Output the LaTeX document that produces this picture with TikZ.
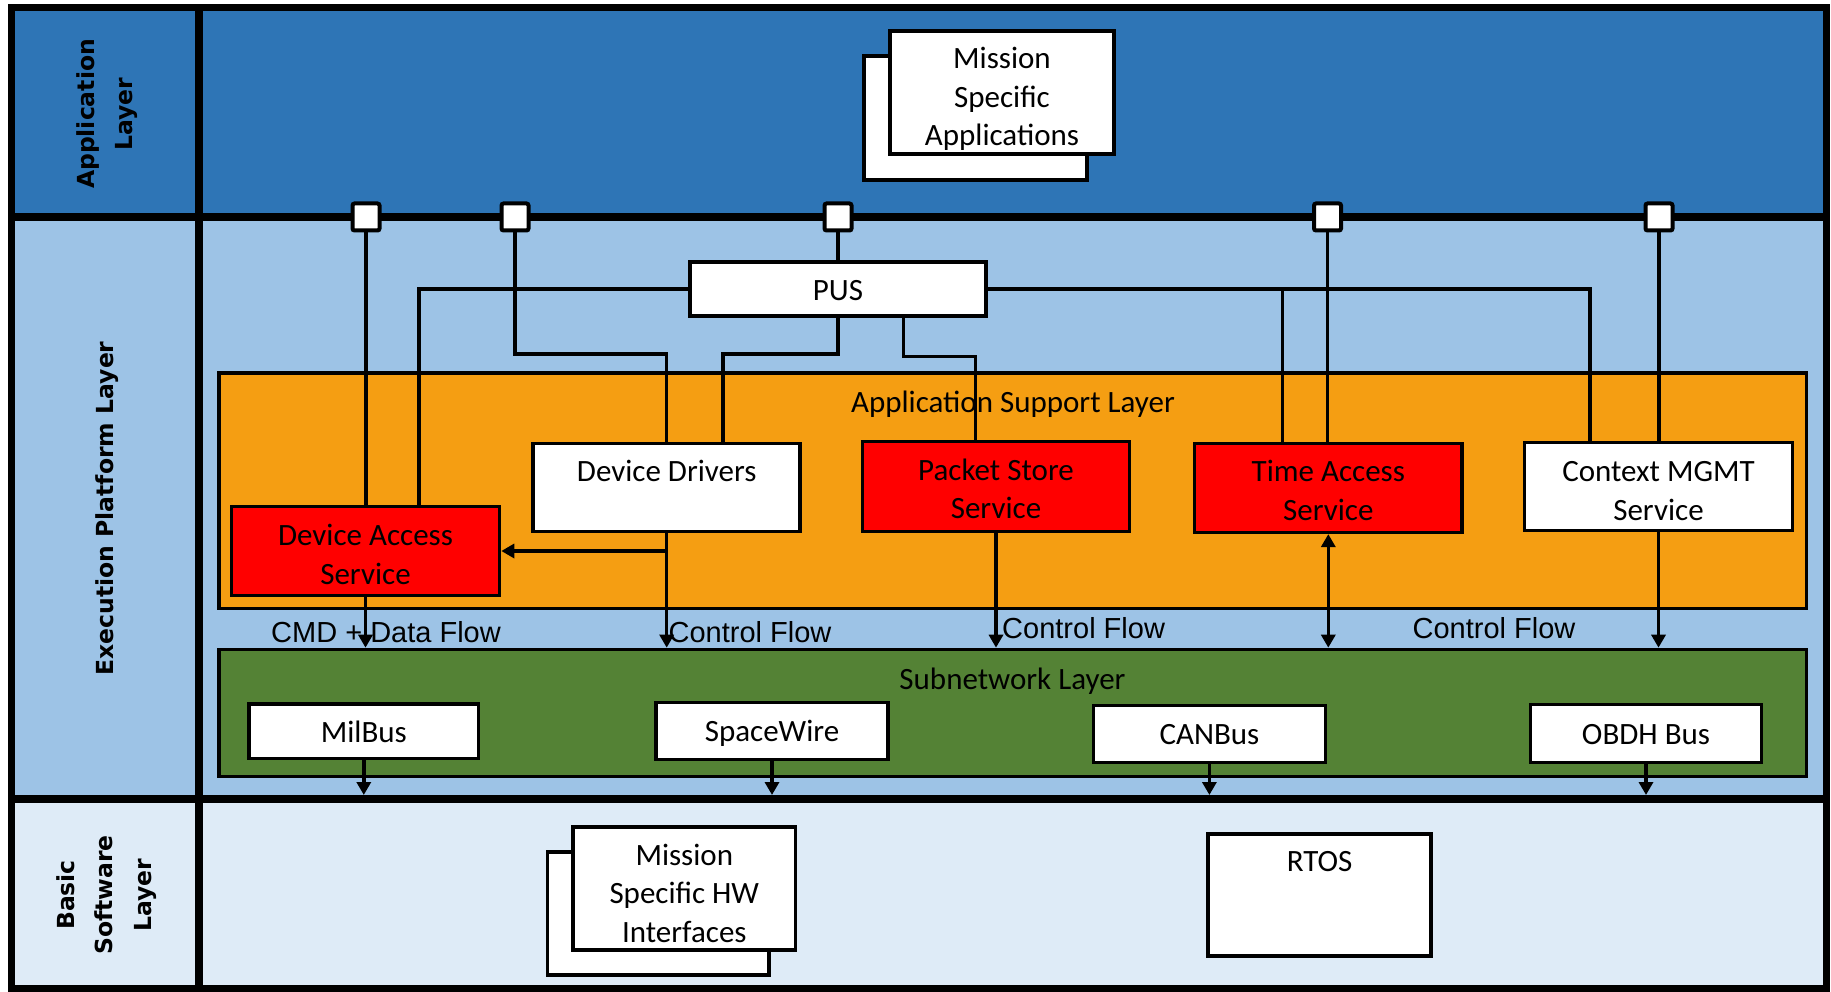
\documentclass[tikz,border=0pt]{standalone}
\usepackage{fontspec}
\setmainfont{Carlito}
\newfontfamily\flowfont{Liberation Sans}
\newfontfamily\sidefont{DejaVu Sans}
\usetikzlibrary{arrows.meta}
\definecolor{appblue}{HTML}{2E75B6}
\definecolor{execblue}{HTML}{9DC3E6}
\definecolor{basicblue}{HTML}{DEEBF7}
\definecolor{aslorange}{HTML}{F59E12}
\definecolor{subgreen}{HTML}{548235}
\definecolor{svcred}{HTML}{FF0000}
\newcommand\boxfnt{\fontsize{31pt}{38.5pt}\selectfont}
\newcommand\flowfnt{\flowfont\fontsize{29pt}{34pt}\selectfont}
\newcommand\sidefnt{\sidefont\bfseries\fontsize{23.5pt}{38.5pt}\selectfont}
\begin{document}
\begin{tikzpicture}[x=1pt,y=-1pt,
  dbox/.style={draw=black, line width=3.6pt, fill=white, inner sep=0pt, align=center, font=\boxfnt},
  dred/.style={dbox, fill=svcred},
  dlayer/.style={draw=black, line width=3.6pt, inner sep=0pt},
  dport/.style={draw=black, fill=white, line width=4pt, minimum size=27pt, inner sep=0pt, rounded corners=2pt},
  dconn/.style={draw=black, line width=3.4pt},
  darrow/.style={dconn, -{Triangle[length=13pt,width=14pt]}},
  ddarrow/.style={dconn, {Triangle[length=13pt,width=14pt]}-{Triangle[length=13pt,width=14pt]}},
  dframe/.style={draw=black, line width=7.5pt},
  dflow/.style={font=\flowfnt, inner sep=0pt},
  dside/.style={font=\sidefnt, align=center, rotate=90, inner sep=0pt},
  dlbl/.style={font=\boxfnt, inner sep=0pt},
  dtxt/.style={font=\boxfnt, inner sep=0pt, align=center},
]
\useasboundingbox (0,0) rectangle (1831,992);
% layer backgrounds
\fill[appblue] (11.5,7.5) rectangle (1826.5,217);
\fill[execblue] (11.5,217) rectangle (1826.5,799);
\fill[basicblue] (11.5,799) rectangle (1826.5,988.5);
\draw[dframe] (11.5,7.5) rectangle (1826.5,988.5);
\draw[dframe] (11.5,217) -- (1826.5,217);
\draw[dframe] (11.5,799) -- (1826.5,799);
\draw[dframe] (199,7.5) -- (199,988.5);
% side labels
\node[dside] (appl) at (107,114) {Application\\Layer};
\node[dside] (execl) at (107,508.5) {Execution Platform Layer};
\node[dside] (basicl) at (106.5,895) {Basic\\Software\\Layer};
% sub layers
\node[dlayer, fill=aslorange, minimum width=1587.5pt, minimum height=235.3pt] (asl) at (1012.75,490.85) {};
\node[dlbl] (asllabel) at (1013,404) {Application Support Layer};
\node[dlayer, fill=subgreen, minimum width=1587.5pt, minimum height=127pt] (sub) at (1012.75,713) {};
\node[dlbl] (sublabel) at (1012.5,681) {Subnetwork Layer};
% application layer
\node[dbox, minimum width=223pt, minimum height=124pt] (msaback) at (975.5,118) {};
\node[dbox, minimum width=223.5pt, minimum height=123pt,
  label={[dtxt, yshift=-6.5pt]center:Mission\\Specific\\Applications}] (msa) at (1002,92.5) {};
% execution platform
\node[dbox, minimum width=296pt, minimum height=54pt,
  label={[dtxt, yshift=-2pt]center:PUS}] (pus) at (838,289) {};
\node[dred, minimum width=268pt, minimum height=89pt,
  label={[dtxt, yshift=-3.5pt]center:Device Access\\Service}] (das) at (365.5,551) {};
\node[dbox, minimum width=267pt, minimum height=88pt,
  label={[dlbl, anchor=north, yshift=-18pt]north:Device Drivers}] (dd) at (666.7,487.3) {};
\node[dred, minimum width=267pt, minimum height=90pt,
  label={[dtxt, yshift=-2.5pt]center:Packet Store\\Service}] (pss) at (996,486.5) {};
\node[dred, minimum width=267.6pt, minimum height=89pt,
  label={[dtxt, yshift=-2.5pt]center:Time Access\\Service}] (tas) at (1328.3,487.8) {};
\node[dbox, minimum width=268pt, minimum height=88pt,
  label={[dtxt, yshift=-4.5pt]center:Context MGMT\\Service}] (cms) at (1658.5,486.4) {};
\node[dbox, minimum width=229.6pt, minimum height=54.7pt,
  label={[dtxt, yshift=-1pt]center:MilBus}] (mil) at (363.8,731.3) {};
\node[dbox, minimum width=232pt, minimum height=57pt,
  label={[dtxt, yshift=-2pt]center:SpaceWire}] (spw) at (772,731) {};
\node[dbox, minimum width=232pt, minimum height=57pt,
  label={[dtxt, yshift=-1pt]center:CANBus}] (can) at (1209.4,734) {};
\node[dbox, minimum width=231pt, minimum height=58pt,
  label={[dtxt, yshift=-1pt]center:OBDH Bus}] (obdh) at (1646,733.5) {};
% basic software layer
\node[dbox, minimum width=221.5pt, minimum height=123pt] (mshwback) at (658.3,913.5) {};
\node[dbox, minimum width=222.5pt, minimum height=122.7pt,
  label={[dtxt, yshift=-5pt]center:Mission\\Specific HW\\Interfaces}] (mshw) at (684.3,888.4) {};
\node[dbox, minimum width=223pt, minimum height=122pt,
  label={[dlbl, anchor=north, yshift=-19pt]north:RTOS}] (rtos) at (1319.5,894.8) {};
% ports
\node[dport] (p1) at (366,217) {};
\node[dport] (p2) at (515,217) {};
\node[dport] (p3) at (838,217) {};
\node[dport] (p4) at (1327.5,217) {};
\node[dport] (p5) at (1659,217) {};
% bend coordinates
\coordinate (b1) at (419,289);
\coordinate (b2) at (515,354);
\coordinate (b3) at (723,354);
\coordinate (b4) at (903.7,356.7);
\coordinate (b5) at (975.6,356.7);
\coordinate (b6) at (1590,289);
\coordinate (b7) at (1282.5,289);
\coordinate (b8) at (666.7,551);
\coordinate (bt) at (0,795);
% connectors
\draw[dconn] (p1.south) -- (p1.south |- das.north);
\draw[dconn] (pus.west) -- (b1) -- (b1 |- das.north);
\draw[dconn] (p2.south) -- (b2) -| (dd.north);
\draw[dconn] (pus.south) |- (b3) -- (b3 |- dd.north);
\draw[dconn] (b4 |- pus.south) -- (b4) -- (b5) -- (b5 |- pss.north);
\draw[dconn] (p3.south) -- (pus.north);
\draw[dconn] (pus.east) -- (b6) -- (b6 |- cms.north);
\draw[dconn] (b7) -- (b7 |- tas.north);
\draw[dconn] (p4.south) -- (p4.south |- tas.north);
\draw[dconn] (p5.south) -- (p5.south |- cms.north);
% arrows
\draw[darrow] (das.south) -- (das.south |- sub.north);
\draw[darrow] (dd.south) -- (dd.south |- sub.north);
\draw[darrow] (b8) -- (das.east);
\draw[darrow] (pss.south) -- (pss.south |- sub.north);
\draw[ddarrow] (tas.south) -- (tas.south |- sub.north);
\draw[darrow] (cms.south) -- (cms.south |- sub.north);
\draw[darrow] (mil.south) -- (mil.south |- bt);
\draw[darrow] (spw.south) -- (spw.south |- bt);
\draw[darrow] (can.south) -- (can.south |- bt);
\draw[darrow] (obdh.south) -- (obdh.south |- bt);
% flow labels
\node[dflow] (f1) at (386,631.7) {CMD + Data Flow};
\node[dflow] (f2) at (750,631.7) {Control Flow};
\node[dflow] (f3) at (1083.6,628) {Control Flow};
\node[dflow] (f4) at (1494,628) {Control Flow};
\end{tikzpicture}
\end{document}
